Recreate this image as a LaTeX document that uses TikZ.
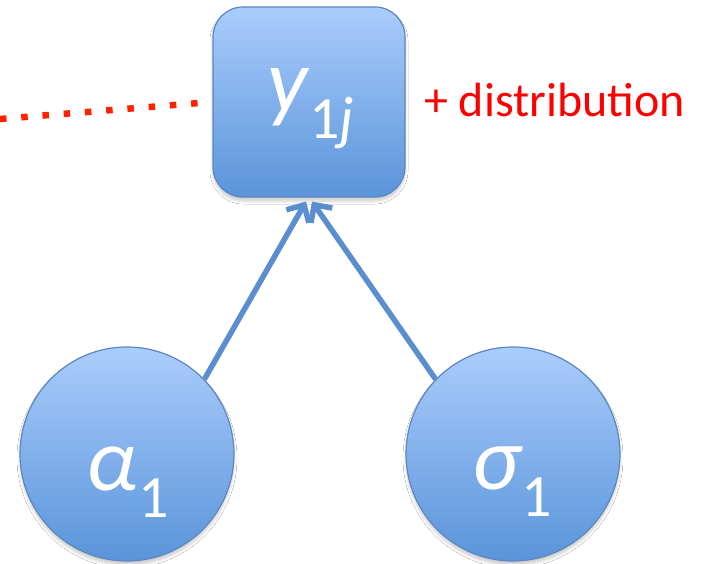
\documentclass[tikz,border=0pt]{standalone}
\usepackage{fontspec}
\setmainfont{Carlito}
\usetikzlibrary{arrows.meta,shadows.blur,calc}
\definecolor{boxtop}{HTML}{AACDFC}
\definecolor{boxbot}{HTML}{5A94DA}
\definecolor{boxline}{HTML}{5B87C0}
\definecolor{arrowc}{HTML}{5B8ECF}
\definecolor{distred}{HTML}{FF0000}
\definecolor{dotred}{HTML}{FF2200}
\tikzset{
  varshape/.style={draw=boxline, line width=1.2pt, top color=boxtop, bottom color=boxbot,
    text=white, inner sep=0pt,
    blur shadow={shadow xshift=0pt, shadow yshift=-4pt, shadow blur radius=3pt, shadow opacity=20}},
  varbox/.style={varshape, rectangle, rounded corners=30pt, minimum width=192pt, minimum height=190pt},
  varcirc/.style={varshape, circle, minimum size=214pt},
  edge/.style={draw=arrowc, line width=5.5pt, -{Straight Barb[length=13pt,width=26pt]}},
  reddots/.style={draw=dotred, line width=6.5pt, dash pattern=on 6.5pt off 14.8pt},
  lbl/.style={text=distred, font=\fontsize{48}{48}\selectfont, inner sep=0pt, anchor=west}
}
\newcommand{\bigsym}[3]{\fontsize{#1}{#1}\selectfont\itshape #2\kern1pt\raisebox{-0.3em}{\fontsize{60}{60}\selectfont #3}}
\begin{document}
\begin{tikzpicture}[x=1pt,y=-1pt]
\useasboundingbox (0,0) rectangle (702,564);
\fill[white] (0,0) rectangle (702,564);
\node[varbox] (y) at (309,102) {};
\node[text=white, inner sep=0pt] (ytext) at (311,109) {\bigsym{90}{y}{\upshape 1\itshape j}};
\node[varcirc] (a) at (127,454) {};
\node[text=white, inner sep=0pt] (atext) at (128,482) {\bigsym{90}{α}{\upshape 1}};
\node[varcirc] (s) at (513,454) {};
\node[text=white, inner sep=0pt] (stext) at (512,482) {\bigsym{90}{σ}{\upshape 1}};
\node[lbl] (dist) at (424,100) {+ distribution};
\coordinate (d0) at (0,119);
\coordinate (d1) at (199,103);
\draw[reddots] (d0) -- (d1);
\draw[edge] (a.44) -- ($(y.south)+(-3,4)$);
\draw[edge] (s.136) -- ($(y.south)+(3,4)$);
\end{tikzpicture}
\end{document}
